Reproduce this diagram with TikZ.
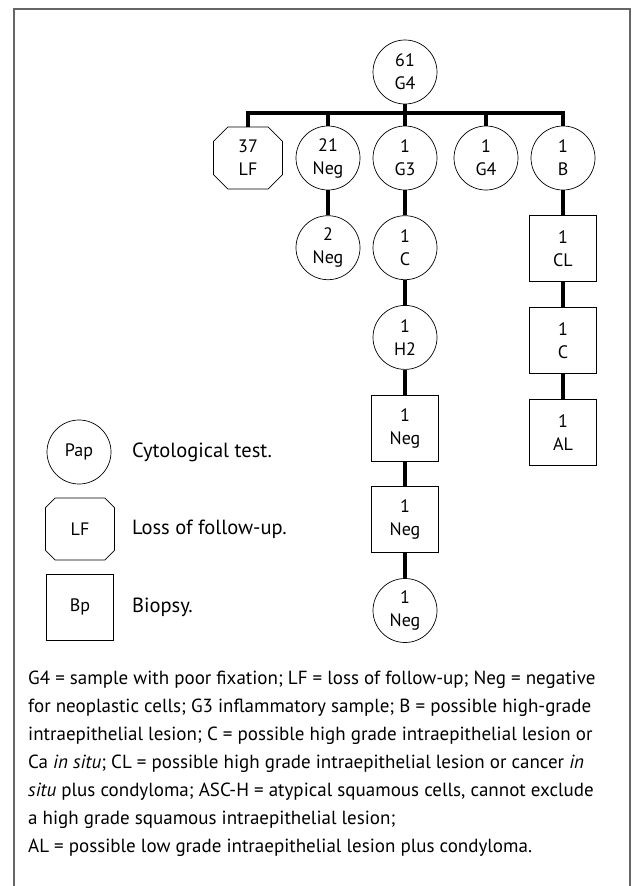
\documentclass[tikz,border=0pt]{standalone}
\usepackage{fontspec}
\setmainfont{PT Sans}
\usetikzlibrary{positioning,shapes.misc}

\begin{document}
\begin{tikzpicture}[
    x=1pt, y=-1pt,
    every node/.style={font=\fontsize{18}{23}\selectfont},
    pap/.style={
      draw, line width=0.7pt, circle, align=center,
      minimum size=64pt, inner sep=0pt
    },
    lost/.style={
      draw, line width=0.7pt, chamfered rectangle,
      chamfered rectangle xsep=11pt, align=center,
      minimum width=69pt, minimum height=62pt, inner sep=0pt
    },
    biopsy/.style={
      draw, line width=0.7pt, rectangle, align=center,
      minimum width=67pt, minimum height=66pt, inner sep=0pt
    },
    keytext/.style={inner sep=0pt, font=\fontsize{20.5}{23}\selectfont},
    note/.style={
      inner sep=0pt, align=left,
      font=\fontsize{19}{28}\selectfont
    },
    link/.style={line width=4pt, black},
    frame/.style={line width=1.2pt, black!60}
  ]

    \useasboundingbox (0,0) rectangle (636,886);
    \draw[frame] (14,886) -- (14,9) -- (630,9) -- (630,886);

    % tree
    \node[pap] (root) at (405,72) {61\\G4};
    \coordinate (bar) at (405,113);

    \node[lost] (lf) at (248,158) {37\\LF};
    \node[pap] (neg21) at (328,158) {21\\Neg};
    \node[pap] (g3) at (405,158) {1\\G3};
    \node[pap] (g4) at (486,158) {1\\G4};
    \node[pap] (b) at (563,158) {1\\B};

    \node[pap, below=25pt of neg21] (neg2) {2\\Neg};
    \node[pap, below=25pt of g3] (c) {1\\C};
    \node[pap, below=25pt of c] (h2) {1\\H2};
    \node[biopsy, below=25pt of h2] (negbp1) {1\\Neg};
    \node[biopsy, below=25pt of negbp1] (negbp2) {1\\Neg};
    \node[pap, below=25pt of negbp2] (neglast) {1\\Neg};

    \node[biopsy, below=25pt of b] (cl) {1\\CL};
    \node[biopsy, below=25pt of cl] (cbp) {1\\C};
    \node[biopsy, below=25pt of cbp] (al) {1\\AL};

    \draw[link] (root) -- (bar);
    \draw[link, line cap=rect] (bar -| lf) -- (bar -| b);
    \foreach \kid in {lf,neg21,g3,g4,b}
      \draw[link] (bar -| \kid) -- (\kid);
    \draw[link] (neg21) -- (neg2);
    \draw[link] (g3) -- (c) -- (h2) -- (negbp1) -- (negbp2) -- (neglast);
    \draw[link] (b) -- (cl) -- (cbp) -- (al);

    % key
    \node[pap] (pap) at (79,452) {Pap};
    \node[lost] (lfkey) at (80,529) {LF};
    \node[biopsy] (bp) at (80,607) {Bp};
    \node[keytext, anchor=west] (paptext) at (132,452) {Cytological test.};
    \node[keytext, anchor=west] (lftext) at (132,529) {Loss of follow-up.};
    \node[keytext, anchor=west] (bptext) at (132,607) {Biopsy.};

    % footnote
    \node[note, anchor=north west] (abbrev) at (28,671)
      {G4 = sample with poor fixation; LF = loss of follow-up; Neg = negative\\
       for neoplastic cells; G3 inflammatory sample; B = possible high-grade\\
       intraepithelial lesion; C = possible high grade intraepithelial lesion or\\
       Ca \textit{in situ}; CL = possible high grade intraepithelial lesion or cancer \textit{in}\\
       \textit{situ} plus condyloma; ASC-H = atypical squamous cells, cannot exclude\\
       a high grade squamous intraepithelial lesion;\\
       AL = possible low grade intraepithelial lesion plus condyloma.};

  \end{tikzpicture}
\end{document}
